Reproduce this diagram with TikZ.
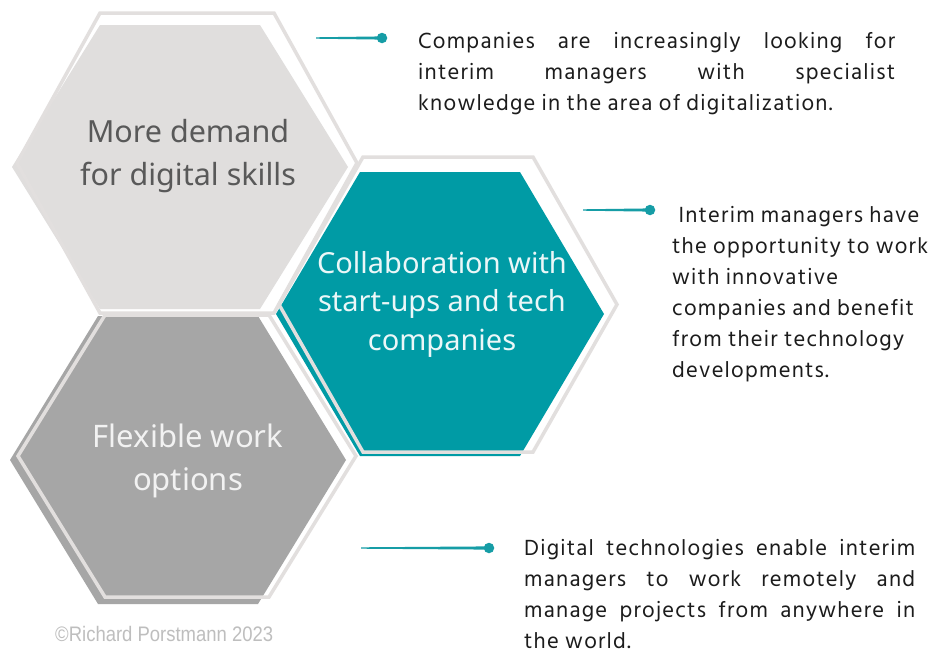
\documentclass[tikz,border=0pt]{standalone}
\usepackage{fontspec}
\setmainfont{Noto Sans}
\newfontfamily\bodyfont[LetterSpace=5.5]{Hind Siliguri}
\newfontfamily\notefont{Liberation Sans}
\definecolor{hexlight}{RGB}{224,222,221}
\definecolor{hexrim}{RGB}{226,223,222}
\definecolor{hexteal}{RGB}{0,155,165}
\definecolor{hexdark}{RGB}{166,166,166}
\definecolor{linkteal}{RGB}{22,157,166}
\definecolor{bodyink}{RGB}{28,28,28}
\definecolor{noteink}{RGB}{190,190,190}
% hexagon through: centre (#1,#2), half width #3, half top edge #4, half height #5
\newcommand\hexpath[5]{(#1-#3,#2) -- (#1-#4,#2-#5) -- (#1+#4,#2-#5) -- (#1+#3,#2) -- (#1+#4,#2+#5) -- (#1-#4,#2+#5) -- cycle}
% tapered connector from a free end #1 to the dot node #2
\newcommand\taperlink[2]{\fill[linkteal] ([yshift=0.7pt]#1) -- ([yshift=1.6pt]#2.center) -- ([yshift=-1.6pt]#2.center) -- ([yshift=-0.7pt]#1) -- cycle;}
\tikzset{
  rim/.style={draw=hexrim, line width=3.5pt, line join=miter},
  hextext/.style={align=center},
  bodytext/.style={align=left, anchor=base west, inner sep=0pt, text=bodyink,
    font=\bodyfont\fontsize{22.5}{31}\selectfont},
  linkdot/.style={circle, fill=linkteal, minimum size=10.5pt, inner sep=0pt},
}
\begin{document}
\begin{tikzpicture}[x=1pt, y=-1pt]
\useasboundingbox (0,0) rectangle (939,653);
\fill[white] (0,0) rectangle (939,653);

% upper hexagon
\fill[hexlight] \hexpath{180}{167}{168}{80}{142};
\draw[rim] \hexpath{187}{163}{170}{87}{150};
% lower hexagon
\fill[hexdark] \hexpath{178}{460}{168}{80}{144};
\draw[rim] \hexpath{187}{456}{169}{82}{141};
% middle hexagon
\fill[hexteal] \hexpath{440}{314}{164}{80}{142};
\draw[rim] \hexpath{448}{304.5}{169}{85}{147.5};

\node[hextext, text=black!65, font=\fontsize{30.5}{43}\selectfont] (demand) at (188,156) {More demand\\for digital skills};
\node[hextext, text=white!92!hexteal, font=\fontsize{29}{38.5}\selectfont] (collab) at (442,304) {Collaboration with\\start-ups and tech\\companies};
\node[hextext, text=white!95!black, font=\fontsize{31}{43}\selectfont] (flex) at (188,461) {Flexible work\\options};

% connectors
\node[linkdot] (d1) at (382,38) {};
\coordinate (s1) at (316,38);
\taperlink{s1}{d1}
\node[linkdot] (d2) at (650,210) {};
\coordinate (s2) at (583,210);
\taperlink{s2}{d2}
\node[linkdot] (d3) at (489,548) {};
\coordinate (s3) at (361,548);
\taperlink{s3}{d3}

% descriptions (anchored at the baseline of the last line)
\node[bodytext] (t1) at (418,110) {\makebox[477pt][s]{Companies are increasingly looking for}\\
  \makebox[477pt][s]{interim managers with specialist}\\
  knowledge in the area of digitalization.};
\node[bodytext] (t2) at (672,377) {\ Interim managers have\\the opportunity to work\\with innovative\\companies and benefit\\from their technology\\developments.};
\node[bodytext] (t3) at (524,648) {\makebox[391pt][s]{Digital technologies enable interim}\\
  \makebox[391pt][s]{managers to work remotely and}\\
  \makebox[391pt][s]{manage projects from anywhere in}\\
  the world.};

\node[anchor=base west, inner sep=0pt, text=noteink, font=\notefont\fontsize{21}{21}\selectfont] (note) at (55,641) {\scalebox{0.88}[1]{\textcopyright Richard Porstmann 2023}};
\end{tikzpicture}
\end{document}
